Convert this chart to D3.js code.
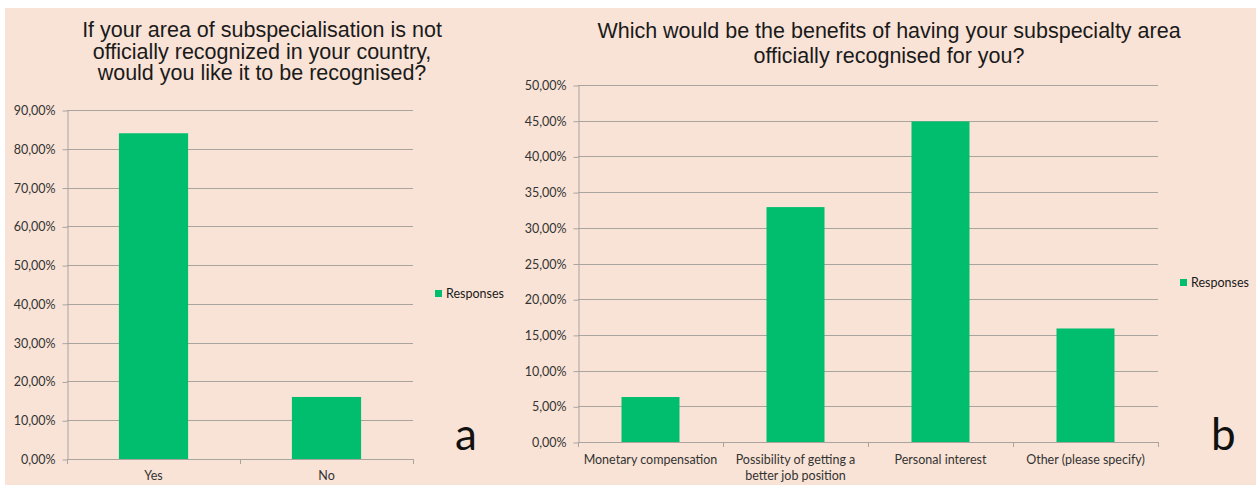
<!DOCTYPE html>
<html>
<head>
<meta charset="utf-8">
<script src="https://cdn.jsdelivr.net/npm/d3@7"></script>
<style>
  html, body { margin: 0; padding: 0; background: #ffffff; }
  svg { display: block; }
</style>
</head>
<body>
<script>
// chart a
var a_title = ["If your area of subspecialisation is not",
               "officially recognized in your country,",
               "would you like it to be recognised?"];
var a_categories = ["Yes", "No"];
var a_values = [84.0, 16.0];
var a_ticks = [0, 10, 20, 30, 40, 50, 60, 70, 80, 90];

// chart b
var b_title = ["Which would be the benefits of having your subspecialty area",
               "officially recognised for you?"];
var b_categories = [["Monetary compensation"],
                    ["Possibility of getting a", "better job position"],
                    ["Personal interest"],
                    ["Other (please specify)"]];
var b_values = [6.3, 32.9, 44.9, 15.9];
var b_ticks = [0, 5, 10, 15, 20, 25, 30, 35, 40, 45, 50];

var series_name = "Responses";

var width = 1256, height = 487;
var bg = '#f9e3d6';
var bar_color = '#00be6e';
var grid_color = '#aaa49e';
var text_color = '#333333';
var label_font = 'Lato, "Open Sans", sans-serif';
var title_font = '"Liberation Sans", Arial, sans-serif';

var svg = d3.select('body')
    .append('svg')
    .attr('width', width)
    .attr('height', height);

svg.append('rect')
    .attr('x', 5)
    .attr('y', 8)
    .attr('width', width - 5)
    .attr('height', 477)
    .attr('fill', bg);

function pct(v) {
    return v.toFixed(2).replace('.', ',') + '%';
}

function draw_panel(p) {
    var g = svg.append('g');

    var x = d3.scaleBand()
        .domain(d3.range(p.categories.length))
        .range([p.left, p.right])
        .paddingInner(0.6)
        .paddingOuter(0.3);

    var y = d3.scaleLinear()
        .domain([0, d3.max(p.ticks)])
        .range([p.bottom, p.top]);

    // gridlines
    g.append('g')
        .selectAll('line')
        .data(p.ticks.slice(1))
        .enter()
        .append('line')
        .attr('x1', p.left)
        .attr('x2', p.right)
        .attr('y1', function(d) { return Math.round(y(d)) + 0.5; })
        .attr('y2', function(d) { return Math.round(y(d)) + 0.5; })
        .attr('stroke', grid_color)
        .attr('stroke-width', 1);

    // bars
    g.append('g')
        .selectAll('rect')
        .data(p.values)
        .enter()
        .append('rect')
        .attr('x', function(d, i) { return x(i); })
        .attr('width', x.bandwidth())
        .attr('y', function(d) { return y(d); })
        .attr('height', function(d) { return p.bottom - y(d); })
        .attr('fill', bar_color);

    // y axis
    var yaxis = g.append('g')
        .attr('transform', `translate(${p.left + 0.5}, 0.5)`)
        .call(d3.axisLeft(y).tickValues(p.ticks).tickFormat(pct).tickSize(5).tickSizeOuter(0).tickPadding(7));
    yaxis.select('.domain').attr('stroke', grid_color);
    yaxis.selectAll('.tick line').attr('stroke', grid_color);
    yaxis.selectAll('text')
        .attr('fill', text_color)
        .style('font-family', label_font)
        .style('font-size', '12.5px');

    // x axis: ticks on category boundaries
    var band_step = (p.right - p.left) / p.categories.length;
    var bounds = d3.range(p.categories.length + 1).map(function(i) { return p.left + i * band_step; });
    var xg = g.append('g');
    xg.append('line')
        .attr('x1', p.left)
        .attr('x2', p.right)
        .attr('y1', p.bottom + 0.5)
        .attr('y2', p.bottom + 0.5)
        .attr('stroke', grid_color);
    xg.selectAll('line.tick')
        .data(bounds)
        .enter()
        .append('line')
        .attr('class', 'tick')
        .attr('x1', function(d) { return Math.round(d) + 0.5; })
        .attr('x2', function(d) { return Math.round(d) + 0.5; })
        .attr('y1', p.bottom)
        .attr('y2', p.bottom + 5)
        .attr('stroke', grid_color);

    var labels = xg.selectAll('text')
        .data(p.categories)
        .enter()
        .append('text')
        .attr('x', function(d, i) { return x(i) + x.bandwidth() / 2; })
        .attr('y', p.bottom + p.label_dy)
        .attr('text-anchor', 'middle')
        .attr('fill', text_color)
        .style('font-family', label_font)
        .style('font-size', '12.5px');
    labels.each(function(d) {
        var t = d3.select(this);
        var lines = Array.isArray(d) ? d : [d];
        lines.forEach(function(l, k) {
            t.append('tspan')
                .attr('x', t.attr('x'))
                .attr('dy', k === 0 ? 0 : 16)
                .text(l);
        });
    });

    // title
    var title = g.append('text')
        .attr('text-anchor', 'middle')
        .attr('fill', '#1a1a1a')
        .style('font-family', title_font)
        .style('font-size', p.title_size + 'px');
    p.title.forEach(function(l, k) {
        title.append('tspan')
            .attr('x', p.title_x)
            .attr('y', p.title_y + k * p.title_lh)
            .text(l);
    });

    // legend
    g.append('rect')
        .attr('x', p.legend_x)
        .attr('y', p.legend_y - 8)
        .attr('width', 7)
        .attr('height', 7)
        .attr('fill', bar_color);
    g.append('text')
        .attr('x', p.legend_x + 11)
        .attr('y', p.legend_y)
        .attr('fill', '#1a1a1a')
        .style('font-family', label_font)
        .style('font-size', '12.5px')
        .text(series_name);

    // panel letter
    g.append('text')
        .attr('x', p.letter_x)
        .attr('y', 450)
        .attr('fill', '#111')
        .style('font-family', label_font)
        .style('font-size', '44px')
        .text(p.letter);
}

draw_panel({
    categories: a_categories, values: a_values, ticks: a_ticks, title: a_title,
    left: 67, right: 413, top: 110, bottom: 459, label_dy: 21,
    title_x: 262, title_y: 37, title_lh: 21.5, title_size: 21.5,
    legend_x: 435, legend_y: 298, letter: 'a', letter_x: 455
});

draw_panel({
    categories: b_categories, values: b_values, ticks: b_ticks, title: b_title,
    left: 578, right: 1158, top: 85, bottom: 442, label_dy: 22,
    title_x: 889, title_y: 38, title_lh: 25, title_size: 21.5,
    legend_x: 1180, legend_y: 287, letter: 'b', letter_x: 1211
});
</script>
</body>
</html>
